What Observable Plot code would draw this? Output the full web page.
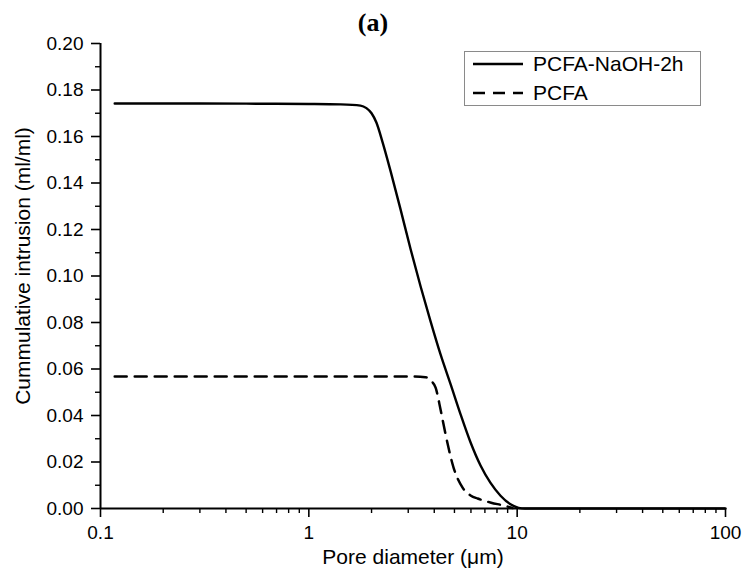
<!DOCTYPE html>
<html>
<head>
<meta charset="utf-8">
<script src="https://cdn.jsdelivr.net/npm/d3@7"></script>
<script src="https://cdn.jsdelivr.net/npm/@observablehq/plot@0.6"></script>
<style>
  html, body { margin: 0; padding: 0; background: #fff; }
  #wrap { position: relative; width: 745px; height: 574px; }
  #title { position: absolute; left: 373px; top: 8px; transform: translateX(-50%);
           font-family: "Liberation Serif", "Times New Roman", serif; font-weight: bold; font-size: 26px; line-height: 30px; color: #000; }
  #legend { position: absolute; left: 464px; top: 51px; width: 237px; height: 55px;
            border: 1px solid #8a8a8a; box-sizing: border-box; background: #fff;
            font-family: "Liberation Sans", Arial, sans-serif; font-size: 21px; color: #000; }
  .row { position: absolute; left: 8px; height: 20px; display: flex; align-items: center; white-space: nowrap; }
  .row svg { margin-right: 10px; }
</style>
</head>
<body>
<div id="wrap">
  <div id="title">(a)</div>
</div>
<script>
// Series: PCFA-NaOH-2h (solid)
const solidX = [0.117, 0.3, 0.6, 1.0, 1.42, 1.77, 1.89, 2.00, 2.11, 2.26, 2.47, 2.75, 3.08, 3.44, 3.84, 4.28, 4.79, 5.35, 5.97, 6.67, 7.45, 8.32, 9.29, 10.16, 10.9, 30, 100];
const solidY = [0.1742, 0.1742, 0.1741, 0.1740, 0.1738, 0.1733, 0.1722, 0.1700, 0.1660, 0.1575, 0.1450, 0.1290, 0.1115, 0.0955, 0.0805, 0.0665, 0.0535, 0.0405, 0.0285, 0.0185, 0.0110, 0.0055, 0.0018, 0.0003, 0.0, 0.0, 0.0];
// Series: PCFA (dashed)
const dashX = [0.117, 0.5, 1.0, 2.0, 3.0, 3.63, 3.85, 4.06, 4.3, 4.53, 4.95, 5.47, 6.0, 6.46, 7.5, 8.6, 9.5];
const dashY = [0.0568, 0.0568, 0.0568, 0.0568, 0.0568, 0.0565, 0.0550, 0.0520, 0.0420, 0.0320, 0.0176, 0.0090, 0.0055, 0.0043, 0.0025, 0.0013, 0.0002];

const seriesNames = ["PCFA-NaOH-2h", "PCFA"];
const xTitle = "Pore diameter (μm)";
const yTitle = "Cummulative intrusion (ml/ml)";
const xMajor = [0.1, 1, 10, 100];
const xMajorLabels = ["0.1", "1", "10", "100"];
const xMinor = [0.2,0.3,0.4,0.5,0.6,0.7,0.8,0.9, 2,3,4,5,6,7,8,9, 20,30,40,50,60,70,80,90];
const yMajor = [0, 0.02, 0.04, 0.06, 0.08, 0.10, 0.12, 0.14, 0.16, 0.18, 0.20];
const yMinor = [0.01, 0.03, 0.05, 0.07, 0.09, 0.11, 0.13, 0.15, 0.17, 0.19];

const solid = solidX.map((x, i) => ({x, y: solidY[i]}));
const dashed = dashX.map((x, i) => ({x, y: dashY[i]}));

const chart = Plot.plot({
  width: 745,
  height: 574,
  marginTop: 43,
  marginBottom: 66,
  marginLeft: 100,
  marginRight: 20,
  style: { fontFamily: "'Liberation Sans', Arial, sans-serif", fontSize: "19px", color: "#000", background: "transparent" },
  x: { type: "log", domain: [0.1, 100], range: [100, 725] },
  y: { domain: [0, 0.2], range: [508, 43] },
  marks: [
    Plot.axisX({ ticks: xMajor, tickFormat: (d) => xMajorLabels[xMajor.indexOf(d)], tickSize: 9, tickPadding: 8, strokeWidth: 1.6, label: null }),
    Plot.axisX({ ticks: xMinor, tickSize: 5, text: null, label: null, strokeWidth: 1.4 }),
    Plot.axisY({ ticks: yMajor, tickFormat: d3.format(".2f"), tickSize: 9, tickPadding: 8, strokeWidth: 1.6, label: null }),
    Plot.axisY({ ticks: yMinor, tickSize: 5, text: null, label: null, strokeWidth: 1.4 }),
    Plot.text([xTitle], { text: d => d, frameAnchor: "bottom", dy: 49, lineAnchor: "middle", fontSize: 21 }),
    Plot.text([yTitle], { text: d => d, frameAnchor: "left", rotate: -90, dx: -77, dy: -10, lineAnchor: "middle", textAnchor: "middle", fontSize: 21 }),
    Plot.ruleY([0], { stroke: "#000", strokeWidth: 2 }),
    Plot.ruleX([0.1], { stroke: "#000", strokeWidth: 2 }),
    Plot.line(dashed, { x: "x", y: "y", stroke: "#000", strokeWidth: 2.5, strokeDasharray: "12,8", curve: "monotone-x" }),
    Plot.line(solid, { x: "x", y: "y", stroke: "#000", strokeWidth: 2.4, curve: "monotone-x" })
  ]
});
const wrap = document.getElementById("wrap");
wrap.insertBefore(chart, wrap.firstChild);

const legend = document.createElement("div");
legend.id = "legend";
const dashes = ["none", "12,8"];
seriesNames.forEach((name, i) => {
  const row = document.createElement("div");
  row.className = "row";
  row.style.top = (2 + i * 29) + "px";
  row.innerHTML = `<svg width="50" height="6"><line x1="0" y1="3" x2="50" y2="3" stroke="#000" stroke-width="2.5" stroke-dasharray="${dashes[i]}"/></svg><span>${name}</span>`;
  legend.appendChild(row);
});
wrap.appendChild(legend);
</script>
</body>
</html>
